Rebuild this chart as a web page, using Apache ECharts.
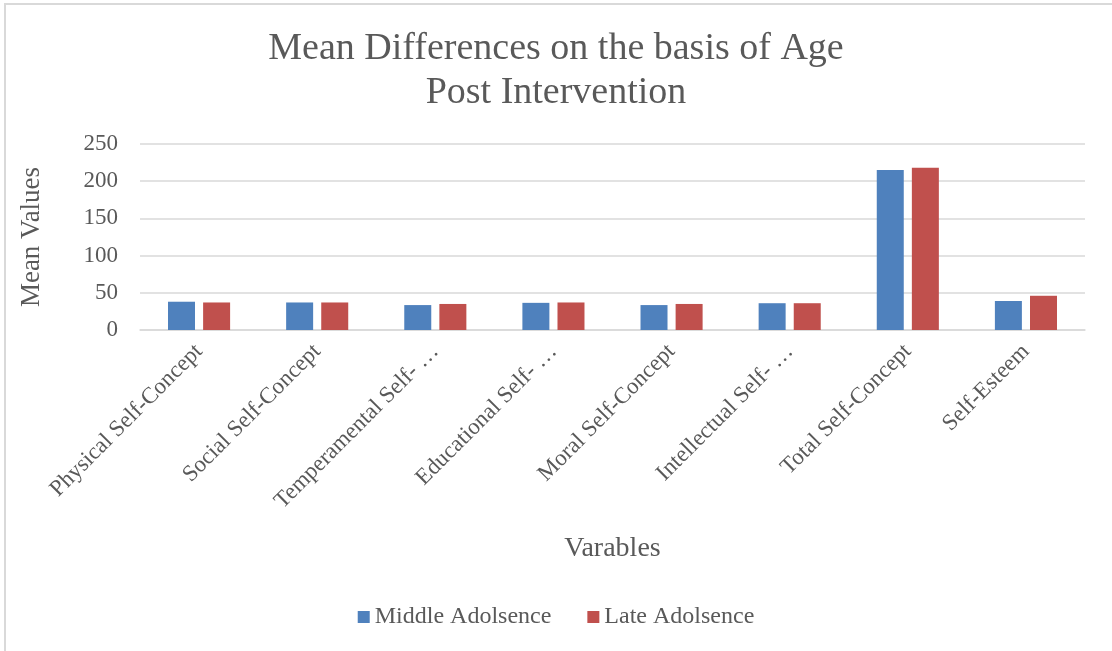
<!DOCTYPE html>
<html>
<head>
<meta charset="utf-8">
<script src="https://cdn.jsdelivr.net/npm/echarts@6/dist/echarts.min.js"></script>
<style>
  html, body { margin: 0; padding: 0; background: #fff; }
  #chart { width: 1112px; height: 651px; }
</style>
</head>
<body>
<div id="chart"></div>
<script>
// Category labels as shown on the axis
const categories = [
  'Physical Self-Concept',
  'Social Self-Concept',
  'Temperamental Self- \u2026',
  'Educational Self- \u2026',
  'Moral Self-Concept',
  'Intellectual Self- \u2026',
  'Total Self-Concept',
  'Self-Esteem'
];

// Mean values per group
const middleAdolescence = [38, 37, 33.5, 36.5, 33.5, 36, 215, 39];
const lateAdolescence = [37, 37, 35, 37, 35, 36, 218, 46];

const seriesNames = ['Middle Adolsence', 'Late Adolsence'];

const FONT = '"Liberation Serif", "DejaVu Serif", serif';
const TEXT = '#595959';

const chart = echarts.init(document.getElementById('chart'), null, { renderer: 'canvas' });

chart.setOption({
  backgroundColor: '#ffffff',
  animation: false,
  textStyle: { fontFamily: FONT, color: TEXT },
  title: {
    text: 'Mean Differences on the basis of Age\nPost Intervention',
    left: 'center',
    top: 22,
    textStyle: { fontFamily: FONT, fontSize: 38, fontWeight: 'normal', color: TEXT, lineHeight: 44 }
  },
  graphic: [{
    type: 'rect',
    shape: { x: 5, y: 4, width: 1200, height: 700 },
    style: { fill: 'none', stroke: '#d9d9d9', lineWidth: 2 },
    silent: true
  }],
  legend: {
    bottom: 17,
    left: 'center',
    itemWidth: 12,
    itemHeight: 12,
    itemGap: 36,
    icon: 'rect',
    textStyle: { fontFamily: FONT, fontSize: 24, color: TEXT },
    data: seriesNames
  },
  grid: { left: 140, right: 27, top: 144, bottom: 321, containLabel: false },
  xAxis: {
    type: 'category',
    data: categories,
    name: 'Varables',
    nameLocation: 'middle',
    nameGap: 205,
    nameTextStyle: { fontFamily: FONT, fontSize: 28, color: TEXT },
    axisLine: { show: true, lineStyle: { color: '#d9d9d9', width: 1.5 } },
    axisTick: { show: false },
    axisLabel: { rotate: 45, fontFamily: FONT, fontSize: 23, color: TEXT, margin: 18, interval: 0 }
  },
  yAxis: {
    type: 'value',
    min: 0,
    max: 250,
    interval: 50,
    name: 'Mean Values',
    nameLocation: 'middle',
    nameGap: 95,
    nameTextStyle: { fontFamily: FONT, fontSize: 27, color: TEXT },
    axisLine: { show: false },
    axisTick: { show: false },
    axisLabel: { fontFamily: FONT, fontSize: 23, color: TEXT, margin: 22 },
    splitLine: { lineStyle: { color: '#d9d9d9', width: 1.5 } }
  },
  series: [
    {
      name: seriesNames[0],
      type: 'bar',
      data: middleAdolescence,
      barWidth: 27,
      barGap: '30%',
      itemStyle: { color: '#4f81bd' }
    },
    {
      name: seriesNames[1],
      type: 'bar',
      data: lateAdolescence,
      barWidth: 27,
      barGap: '30%',
      itemStyle: { color: '#c0504d' }
    }
  ]
});
</script>
</body>
</html>
